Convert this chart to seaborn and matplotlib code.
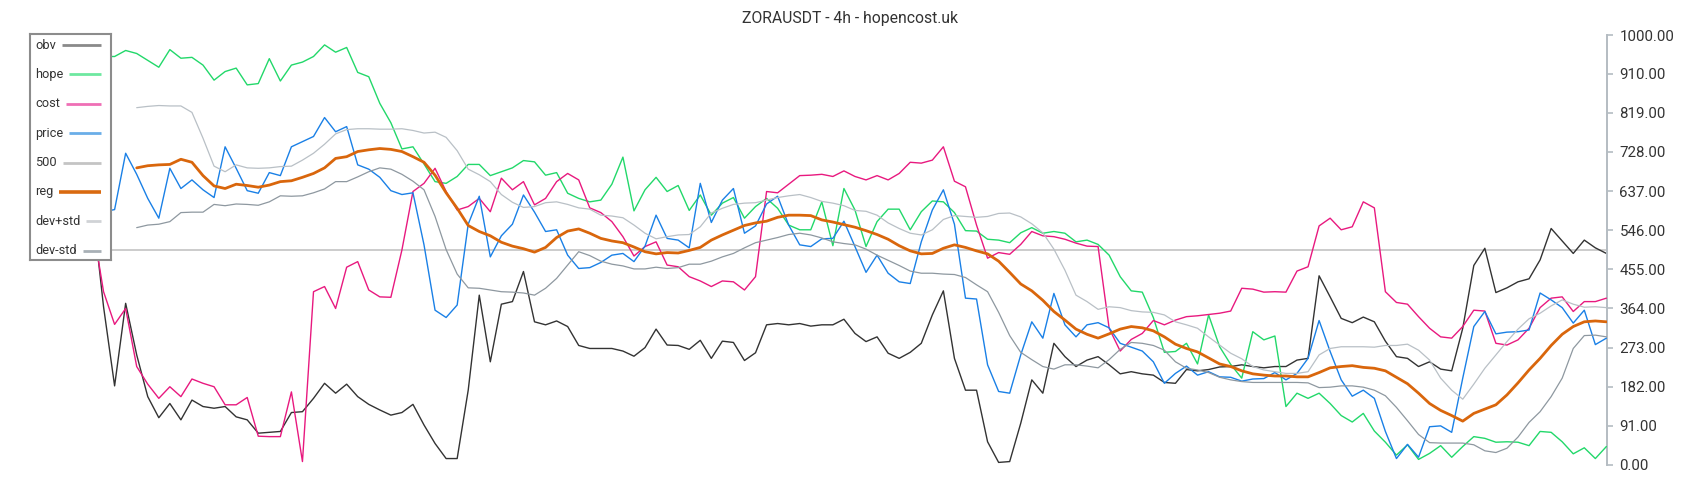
import numpy as np
import matplotlib
matplotlib.use("Agg")
import matplotlib.pyplot as plt
import seaborn as sns

title = "ZORAUSDT - 4h - hopencost.uk"
labels = ["obv", "hope", "cost", "price", "500", "reg", "dev+std", "dev-std"]
level_500 = 500
y_ticks = [0, 91, 182, 273, 364, 455, 546, 637, 728, 819, 910, 1000]

obv = [600, 368, 184, 376, 256, 159, 110, 143, 105, 151,
       136, 132, 136, 112, 105, 74, 76, 78, 122, 124,
       155, 190, 167, 188, 159, 141, 128, 116, 122, 141,
       93, 50, 15, 15, 174, 395, 240, 374, 380, 450,
       333, 326, 335, 322, 278, 271, 271, 271, 265, 253,
       273, 316, 279, 278, 269, 290, 248, 288, 285, 243,
       261, 326, 329, 326, 329, 323, 326, 326, 339, 306,
       287, 298, 260, 248, 262, 283, 349, 405, 248, 174,
       174, 54, 6, 8, 97, 198, 167, 283, 252, 229,
       244, 252, 233, 212, 217, 212, 209, 192, 190, 222,
       219, 222, 228, 229, 233, 229, 226, 229, 229, 244,
       248, 440, 391, 341, 331, 344, 333, 288, 252, 248,
       229, 240, 223, 219, 318, 464, 504, 401, 412, 426,
       433, 477, 550, 521, 492, 523, 505, 492]

hope = [950, 950, 950, 964, 957, 941, 925, 966, 946, 948,
        930, 895, 915, 923, 884, 887, 945, 893, 930, 937,
        950, 977, 960, 971, 913, 903, 841, 796, 735, 740,
        700, 659, 655, 671, 699, 699, 673, 682, 691, 708,
        705, 674, 680, 632, 620, 612, 616, 653, 716, 591,
        640, 669, 636, 650, 592, 628, 581, 609, 622, 574,
        601, 620, 597, 558, 547, 547, 612, 510, 643, 593,
        508, 566, 595, 595, 547, 589, 614, 612, 587, 545,
        544, 525, 523, 517, 540, 552, 539, 543, 539, 519,
        523, 513, 488, 438, 405, 402, 343, 262, 264, 283,
        235, 349, 275, 234, 202, 310, 291, 300, 136, 167,
        155, 167, 143, 115, 100, 120, 79, 53, 23, 47,
        13, 27, 45, 18, 43, 66, 62, 53, 54, 53,
        45, 78, 76, 54, 26, 40, 15, 43]

cost = [560, 403, 327, 364, 229, 188, 155, 182, 159, 200,
        190, 182, 140, 140, 157, 67, 66, 66, 170, 8,
        403, 415, 364, 460, 473, 407, 391, 390, 500, 636,
        655, 690, 636, 593, 601, 620, 589, 667, 640, 659,
        605, 620, 659, 678, 663, 598, 587, 566, 531, 486,
        508, 519, 465, 461, 438, 428, 415, 428, 426, 407,
        438, 636, 633, 653, 673, 674, 676, 671, 684, 671,
        663, 673, 663, 678, 704, 702, 709, 740, 660, 647,
        558, 481, 494, 490, 513, 543, 533, 531, 525, 516,
        509, 508, 318, 265, 292, 306, 336, 326, 337, 345,
        347, 350, 353, 358, 411, 409, 402, 403, 402, 451,
        461, 556, 574, 547, 554, 612, 598, 403, 378, 374,
        345, 318, 298, 295, 322, 360, 358, 283, 279, 291,
        318, 366, 388, 391, 357, 380, 380, 388]

price = [580, 589, 594, 725, 676, 620, 574, 690, 643, 663,
         640, 622, 740, 690, 638, 632, 680, 673, 740, 752,
         764, 808, 775, 787, 698, 688, 669, 638, 629, 633,
         512, 360, 343, 372, 560, 625, 484, 533, 560, 628,
         588, 543, 547, 488, 457, 459, 471, 488, 492, 473,
         509, 581, 527, 523, 505, 655, 564, 616, 643, 539,
         556, 607, 625, 558, 512, 508, 526, 527, 567, 508,
         448, 488, 446, 426, 422, 519, 593, 640, 560, 388,
         386, 233, 171, 167, 256, 333, 295, 399, 326, 298,
         326, 331, 319, 283, 274, 265, 240, 190, 213, 230,
         209, 217, 205, 204, 195, 200, 201, 215, 198, 213,
         248, 336, 264, 198, 160, 174, 155, 78, 15, 48,
         18, 89, 91, 76, 202, 322, 357, 305, 309, 310,
         314, 400, 384, 366, 330, 360, 280, 295]

band_start = 4
reg = [691, 696, 698, 699, 711, 704, 673, 649, 643, 653,
       650, 646, 651, 659, 661, 669, 678, 691, 713, 717,
       729, 733, 736, 734, 729, 717, 704, 674, 633, 597,
       557, 543, 533, 518, 509, 503, 495, 506, 529, 544,
       549, 539, 527, 521, 517, 507, 496, 491, 494, 493,
       499, 506, 523, 535, 546, 557, 563, 567, 576, 581,
       581, 580, 570, 565, 559, 553, 545, 536, 525, 510,
       498, 491, 492, 504, 512, 506, 498, 491, 474, 448,
       421, 405, 383, 357, 337, 316, 304, 295, 305, 316,
       322, 319, 312, 298, 281, 271, 263, 249, 235, 229,
       219, 212, 209, 207, 207, 205, 205, 215, 226, 229,
       231, 227, 225, 219, 204, 189, 167, 143, 127, 115,
       102, 120, 130, 140, 163, 191, 221, 248, 278, 304,
       322, 333, 335, 333]

dev_plus = [831, 834, 836, 835, 835, 820, 760, 695, 682, 698,
            691, 690, 691, 694, 695, 709, 725, 746, 770, 780,
            782, 782, 781, 781, 782, 778, 772, 774, 762, 731,
            688, 675, 659, 629, 611, 599, 601, 610, 612, 606,
            598, 595, 581, 579, 575, 558, 539, 526, 531, 535,
            536, 554, 586, 597, 606, 609, 610, 616, 622, 626,
            629, 622, 613, 609, 603, 592, 590, 581, 563, 550,
            539, 535, 547, 571, 580, 578, 576, 578, 585, 586,
            577, 561, 540, 502, 453, 395, 380, 362, 368, 366,
            359, 356, 355, 349, 333, 326, 318, 298, 279, 260,
            247, 229, 221, 217, 213, 213, 217, 256, 271, 275,
            275, 275, 274, 278, 278, 281, 267, 244, 202, 174,
            153, 188, 225, 256, 287, 316, 340, 353, 370, 384,
            374, 367, 368, 366]

dev_minus = [552, 558, 560, 566, 587, 588, 588, 606, 603, 607,
             606, 604, 612, 626, 625, 626, 633, 642, 659, 659,
             670, 682, 691, 688, 676, 660, 640, 578, 501, 444,
             412, 411, 407, 403, 402, 400, 395, 411, 434, 465,
             496, 487, 474, 467, 463, 456, 456, 460, 457, 459,
             467, 467, 474, 484, 492, 505, 517, 523, 529, 536,
             539, 535, 528, 519, 515, 512, 502, 488, 476, 464,
             451, 446, 446, 444, 443, 436, 419, 403, 355, 301,
             262, 245, 229, 223, 233, 233, 230, 226, 245, 269,
             285, 283, 278, 267, 240, 225, 221, 215, 204, 198,
             194, 192, 192, 192, 192, 192, 191, 180, 181, 184,
             184, 181, 174, 161, 134, 103, 71, 52, 51, 51,
             51, 47, 33, 29, 39, 65, 99, 124, 159, 202,
             271, 301, 302, 298]

colors = {"obv": "#333333", "hope": "#22d86a", "cost": "#e8197f", "price": "#1a80e6",
          "500": "#c8c8c8", "reg": "#d9660c", "dev+std": "#b9c0c6", "dev-std": "#8e98a0"}
legend_colors = ["#8a8a8a", "#6ee8a0", "#ef6fb5", "#6aaee8", "#c4c4c4", "#d96a10", "#d0d3d6", "#a8b0b6"]
legend_widths = [2.0, 2.0, 2.0, 2.0, 2.0, 2.6, 2.0, 2.0]

sns.set_theme(style="white")
plt.rcParams['font.family'] = ['Roboto', 'DejaVu Sans']

W, H = 1700, 500
fig = plt.figure(figsize=(W / 100, H / 100), dpi=100)
ax = fig.add_axes([30 / W, 35 / H, 1577 / W, 430 / H])

x_main = np.arange(len(obv))
x_band = np.arange(band_start, band_start + len(reg))

ax.axhline(level_500, color=colors["500"], lw=1.3, zorder=1)
series = [("obv", x_main, obv, 1.0), ("hope", x_main, hope, 1.0), ("cost", x_main, cost, 1.0),
          ("price", x_main, price, 1.0), ("reg", x_band, reg, 2.0),
          ("dev+std", x_band, dev_plus, 0.9), ("dev-std", x_band, dev_minus, 0.9)]
for i, (name, xs, ys, lw) in enumerate(series):
    sns.lineplot(x=xs, y=ys, ax=ax, color=colors[name], linewidth=lw,
                 estimator=None, sort=False, legend=False, zorder=2 + i)

n = len(obv)
step = (1606.4 - 92.5) / (n - 1)
ax.set_xlim(-(92.5 - 30) / step, (1607 - 92.5) / step)
ax.set_ylim(0, 1000)
ax.set_xticks([])
ax.set_xlabel("")
ax.set_ylabel("")
for s in ["left", "top", "bottom"]:
    ax.spines[s].set_visible(False)
ax.spines["right"].set_visible(True)
ax.spines["right"].set_color("#b4bcc2")
ax.spines["right"].set_linewidth(1.4)
ax.yaxis.tick_right()
ax.set_yticks(y_ticks)
ax.set_yticklabels([f"{t:.2f}" for t in y_ticks])
ax.tick_params(axis="y", which="both", left=False, right=True, labelleft=False, labelright=True,
               direction="out", length=4, width=1.2, color="#b4bcc2", labelcolor="#333333",
               labelsize=10.8, pad=5)
ax.grid(False)

fig.text(0.5, 1 - 19 / H, title, ha="center", va="center", fontsize=11.3, color="#333333")

# legend box
leg_ax = fig.add_axes([30 / W, (H - 260) / H, 81 / W, 226 / H])
leg_ax.set_xlim(0, 81)
leg_ax.set_ylim(226, 0)
leg_ax.set_xticks([])
leg_ax.set_yticks([])
leg_ax.set_facecolor("white")
for sp in leg_ax.spines.values():
    sp.set_color("#8c8c8c")
    sp.set_linewidth(1.5)
fig.canvas.draw()
renderer = fig.canvas.get_renderer()
for i, (lab, col, lw) in enumerate(zip(labels, legend_colors, legend_widths)):
    yy = 11 + 29.4 * i
    t = leg_ax.text(5, yy, lab, fontsize=9.2, color="#333333", va="center", ha="left")
    bb = t.get_window_extent(renderer)
    x_end = leg_ax.transData.inverted().transform((bb.x1, bb.y0))[0]
    leg_ax.plot([x_end + 6, 71], [yy, yy], color=col, lw=lw, solid_capstyle="butt")

fig.savefig("out.png", dpi=100)
